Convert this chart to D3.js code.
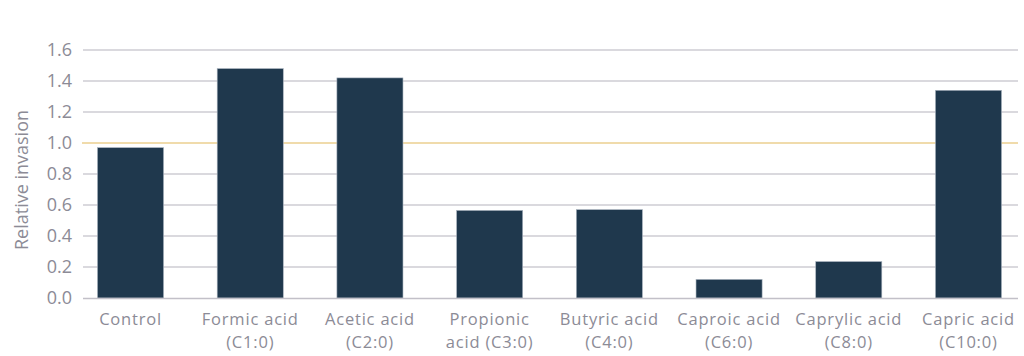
<!DOCTYPE html>
<html><head><meta charset="utf-8">
<script src="https://cdn.jsdelivr.net/npm/d3@7"></script>
<style>body{margin:0;background:#fff}svg{display:block}text{font-family:"Open Sans",sans-serif;fill:#8c8b96}</style>
</head><body><svg id="c" width="1024" height="356"></svg>
<script>
const categories = [["Control"],["Formic acid","(C1:0)"],["Acetic acid","(C2:0)"],["Propionic","acid (C3:0)"],["Butyric acid","(C4:0)"],["Caproic acid","(C6:0)"],["Caprylic acid","(C8:0)"],["Capric acid","(C10:0)"]];
const values = [0.97, 1.48, 1.42, 0.565, 0.57, 0.12, 0.235, 1.34];
const yTicks = [0, 0.2, 0.4, 0.6, 0.8, 1.0, 1.2, 1.4, 1.6];
const refValue = 1.0;

const svg = d3.select("#c");
const x = d3.scaleBand().domain(categories.map((d,i)=>i)).range([83,1016]).paddingInner(0.448).paddingOuter(0.121);
const y = d3.scaleLinear().domain([0,1.6]).range([298,50]);

// grid
svg.append("g").selectAll("line").data(yTicks.filter(t=>t>0 && t!==refValue)).join("line")
  .attr("x1",83).attr("x2",1018).attr("y1",d=>y(d)).attr("y2",d=>y(d))
  .attr("stroke","#b5b3bd").attr("stroke-width",1);
// reference line (behind bars)
svg.append("line").attr("x1",82).attr("x2",1018).attr("y1",y(refValue)).attr("y2",y(refValue))
  .attr("stroke","#ebcf8f").attr("stroke-width",1.5);
// tick labels
svg.append("g").selectAll("text").data(yTicks).join("text")
  .attr("x",72).attr("y",d=>y(d)).attr("dy","0.35em").attr("text-anchor","end")
  .style("font-size","18px").text(d=>d.toFixed(1));
// bars
svg.append("g").selectAll("rect").data(values).join("rect")
  .attr("x",(d,i)=>x(i)).attr("width",x.bandwidth())
  .attr("y",d=>y(d)).attr("height",d=>y(0)-y(d))
  .attr("fill","#1f384d").attr("stroke","#a9b3be").attr("stroke-width",0.6);
// baseline
svg.append("line").attr("x1",83).attr("x2",1018).attr("y1",y(0)+0.5).attr("y2",y(0)+0.5)
  .attr("stroke","#c2c0c8").attr("stroke-width",1.5);
// x labels
const xl = svg.append("g").selectAll("text").data(categories).join("text")
  .attr("text-anchor","middle").style("font-size","16.5px").style("letter-spacing","0.8px")
  .attr("transform",(d,i)=>`translate(${x(i)+x.bandwidth()/2},325)`);
xl.selectAll("tspan").data(d=>d).join("tspan").attr("x",0).attr("dy",(d,i)=>i?22.6:0).text(d=>d);
// y title
svg.append("text").attr("transform","translate(28,180) rotate(-90)").attr("text-anchor","middle")
  .style("font-size","18px").text("Relative invasion");
</script></body></html>
